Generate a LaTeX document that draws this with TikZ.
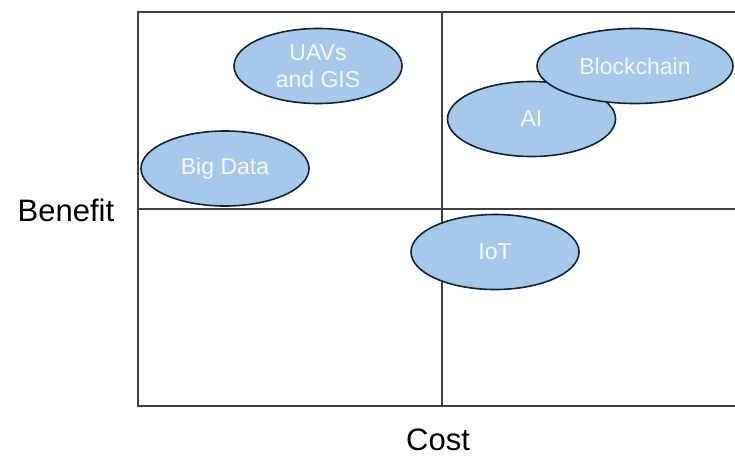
\documentclass[tikz,border=0pt]{standalone}
\usepackage{fontspec}
\setmainfont{Liberation Sans}
\usetikzlibrary{shapes.geometric}
\definecolor{bubblefill}{RGB}{166,201,235}
\definecolor{bubbleline}{RGB}{16,36,52}
\definecolor{gridline}{RGB}{64,64,64}
\definecolor{bubbletext}{RGB}{245,247,250}
\tikzset{
  bubble/.style={ellipse, draw=bubbleline, line width=1.6pt, fill=bubblefill,
    minimum width=168pt, minimum height=75pt, inner sep=0pt,
    text=bubbletext, font=\fontsize{23}{27}\selectfont, align=center},
  axislabel/.style={font=\fontsize{31}{34}\selectfont, text=black},
  gridrule/.style={draw=gridline, line width=1.3pt}
}
\begin{document}
\begin{tikzpicture}[x=1pt, y=-1pt]
  \useasboundingbox (0,0) rectangle (735,458);
  % quadrant frame
  \draw[gridrule] (735,12) -- (138,12) -- (138,406) -- (735,406);
  \draw[gridrule] (442,12) -- (442,406);
  \draw[gridrule] (138,209) -- (735,209);
  % axis labels
  \node[axislabel] (benefit) at (66,210) {Benefit};
  \node[axislabel] (cost) at (438,440) {Cost};
  % technology bubbles
  \node[bubble] (uav) at (318,66) {UAVs\\and GIS};
  \node[bubble] (bigdata) at (225,168.5) {Big Data};
  \node[bubble] (iot) at (495,252) {IoT};
  \node[bubble] (ai) at (531.5,119) {AI};
  \node[bubble, minimum width=196pt] (chain) at (635,66) {Blockchain};
\end{tikzpicture}
\end{document}
